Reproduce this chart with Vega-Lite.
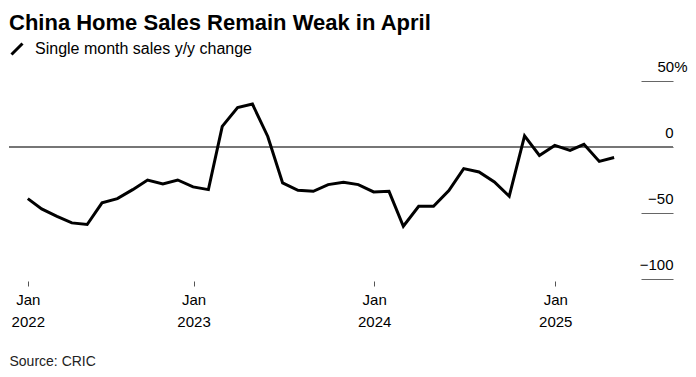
{
  "$schema": "https://vega.github.io/schema/vega-lite/v6.json",
  "width": 664,
  "height": 198,
  "autosize": "none",
  "padding": {"left": 9, "top": 81, "right": 23, "bottom": 98},
  "background": "#ffffff",
  "config": {
    "font": "Liberation Sans",
    "view": {"stroke": null}
  },
  "title": {
    "text": "China Home Sales Remain Weak in April",
    "anchor": "start",
    "frame": "group",
    "baseline": "alphabetic",
    "fontSize": 22,
    "fontWeight": "bold",
    "color": "#000000",
    "offset": -11
  },
  "data": {
    "values": [
      {"date": "2022-01-31", "value": -39.1},
      {"date": "2022-02-28", "value": -46.9},
      {"date": "2022-03-31", "value": -52.5},
      {"date": "2022-04-30", "value": -57.5},
      {"date": "2022-05-31", "value": -58.7},
      {"date": "2022-06-30", "value": -42.3},
      {"date": "2022-07-31", "value": -39.1},
      {"date": "2022-08-31", "value": -32.3},
      {"date": "2022-09-30", "value": -25.0},
      {"date": "2022-10-31", "value": -28.0},
      {"date": "2022-11-30", "value": -25.0},
      {"date": "2022-12-31", "value": -30.2},
      {"date": "2023-01-31", "value": -32.3},
      {"date": "2023-02-28", "value": 15.6},
      {"date": "2023-03-31", "value": 29.9},
      {"date": "2023-04-30", "value": 32.5},
      {"date": "2023-05-31", "value": 8.0},
      {"date": "2023-06-30", "value": -27.2},
      {"date": "2023-07-31", "value": -32.8},
      {"date": "2023-08-31", "value": -33.6},
      {"date": "2023-09-30", "value": -28.5},
      {"date": "2023-10-31", "value": -26.8},
      {"date": "2023-11-30", "value": -28.5},
      {"date": "2023-12-31", "value": -34.0},
      {"date": "2024-01-31", "value": -33.6},
      {"date": "2024-02-29", "value": -60.0},
      {"date": "2024-03-31", "value": -44.9},
      {"date": "2024-04-30", "value": -44.9},
      {"date": "2024-05-31", "value": -33.0},
      {"date": "2024-06-30", "value": -16.4},
      {"date": "2024-07-31", "value": -18.9},
      {"date": "2024-08-31", "value": -26.5},
      {"date": "2024-09-30", "value": -37.3},
      {"date": "2024-10-31", "value": 8.5},
      {"date": "2024-11-30", "value": -6.4},
      {"date": "2024-12-31", "value": 1.2},
      {"date": "2025-01-31", "value": -2.6},
      {"date": "2025-02-28", "value": 2.0},
      {"date": "2025-03-31", "value": -10.9},
      {"date": "2025-04-30", "value": -7.9}
    ]
  },
  "layer": [
    {
      "mark": {"type": "rule", "color": "#777777", "strokeWidth": 1},
      "encoding": {"y": {"datum": 0, "type": "quantitative"}}
    },
    {
      "mark": {"type": "line", "strokeWidth": 3, "strokeJoin": "miter", "strokeCap": "butt"},
      "encoding": {
        "x": {
          "field": "date",
          "type": "temporal",
          "scale": {
            "type": "utc",
            "domain": [
              {"year": 2021, "month": 12, "date": 24, "utc": true},
              {"year": 2025, "month": 8, "date": 27, "utc": true}
            ]
          },
          "axis": {
            "orient": "bottom",
            "values": [
              {"year": 2022, "month": 1, "date": 31, "utc": true},
              {"year": 2023, "month": 1, "date": 1, "utc": true},
              {"year": 2024, "month": 1, "date": 1, "utc": true},
              {"year": 2025, "month": 1, "date": 1, "utc": true}
            ],
            "labelExpr": "[utcFormat(datum.value, '%b'), utcFormat(datum.value, '%Y')]",
            "domain": false,
            "grid": false,
            "offset": 2,
            "tickSize": 5,
            "tickColor": "#555555",
            "labelFontSize": 15,
            "labelLineHeight": 22,
            "labelPadding": 6,
            "labelColor": "#000000",
            "labelOverlap": false,
            "labelBound": false,
            "labelFlush": false,
            "title": "Source: CRIC",
            "titleAnchor": "start",
            "titleAlign": "left",
            "titleBaseline": "alphabetic",
            "titleX": 0,
            "titleY": 84,
            "titleFontSize": 14,
            "titleFontWeight": "normal",
            "titleColor": "#222222"
          }
        },
        "y": {
          "field": "value",
          "type": "quantitative",
          "scale": {"domain": [-100, 50], "nice": false, "zero": false},
          "axis": {
            "orient": "right",
            "values": [-100, -50, 0, 50],
            "offset": -32,
            "tickSize": 32,
            "tickColor": "#666666",
            "domain": false,
            "grid": false,
            "labelAlign": "right",
            "labelBaseline": "alphabetic",
            "labelOffset": -10,
            "labelPadding": {"condition": {"test": "datum.value == 50", "value": 14}, "value": 0},
            "labelExpr": "datum.value == 50 ? '50%' : datum.label",
            "labelFontSize": 15,
            "labelColor": "#000000",
            "labelOverlap": false,
            "labelBound": false,
            "labelFlush": false,
            "title": null
          }
        },
        "color": {
          "datum": "Single month sales y/y change",
          "type": "nominal",
          "scale": {"range": ["#000000"]},
          "legend": {
            "title": null,
            "orient": "none",
            "legendX": 0,
            "legendY": -40,
            "padding": 0,
            "symbolType": "M-1,1L1,-1",
            "symbolSize": 121,
            "symbolStrokeWidth": 3,
            "labelFontSize": 16,
            "labelColor": "#000000",
            "labelOffset": 10,
            "labelLimit": 400
          }
        }
      }
    }
  ]
}
